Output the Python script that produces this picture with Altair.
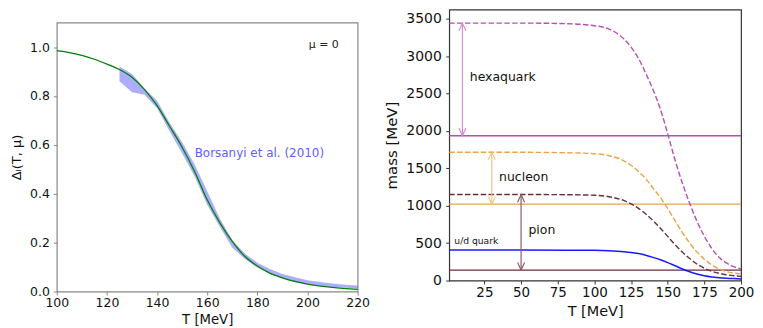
import altair as alt
import pandas as pd

# ---------------- Left panel data ----------------
left_T = [100, 105, 110, 115, 120, 125, 130, 135, 140, 145, 150, 155, 160, 165, 170, 175, 180, 185, 190, 195, 200, 210, 220]
left_delta = [0.985, 0.977, 0.966, 0.950, 0.930, 0.908, 0.876, 0.826, 0.760, 0.676, 0.590, 0.490, 0.375, 0.282, 0.205, 0.144, 0.104, 0.075, 0.056, 0.041, 0.030, 0.017, 0.009]

band_T = [125, 130, 135, 140, 145, 150, 155, 160, 165, 170, 175, 180, 185, 190, 195, 200, 205, 210, 215, 220]
band_hi = [0.92, 0.89, 0.83, 0.78, 0.69, 0.61, 0.52, 0.41, 0.30, 0.21, 0.155, 0.118, 0.092, 0.072, 0.058, 0.046, 0.039, 0.033, 0.028, 0.025]
band_lo = [0.86, 0.815, 0.805, 0.75, 0.655, 0.565, 0.47, 0.355, 0.265, 0.18, 0.133, 0.098, 0.073, 0.054, 0.038, 0.028, 0.022, 0.018, 0.015, 0.012]

left_text = ["Borsanyi et al. (2010)", "\u03bc = 0"]
left_text_T = [155, 200.5]
left_text_v = [0.567, 1.01]
left_text_color = ["#6060ff", "#222222"]
left_text_size = [12, 11]

# ---------------- Right panel data ----------------
right_T = [1, 50, 80, 100, 110, 120, 125, 130, 135, 140, 145, 150, 155, 160, 165, 170, 175, 180, 185, 190, 195, 200]
hexa_m = [3440, 3440, 3433, 3405, 3360, 3230, 3120, 2970, 2770, 2550, 2290, 1960, 1610, 1300, 1030, 790, 590, 430, 310, 235, 185, 155]
nucleon_m = [1715, 1714, 1708, 1695, 1668, 1600, 1540, 1460, 1360, 1235, 1110, 960, 800, 640, 500, 380, 285, 210, 155, 120, 100, 88]
pion_m = [1150, 1150, 1147, 1140, 1120, 1070, 1025, 965, 890, 800, 700, 590, 480, 380, 295, 220, 165, 125, 97, 78, 64, 55]
quark_m = [407, 407, 406, 404, 398, 386, 376, 360, 338, 310, 278, 240, 198, 155, 118, 88, 64, 48, 38, 31, 26, 22]

hline_mass = [1935, 1020, 140]
arrow_T = [10, 30, 50]
arrow_top = [3440, 1715, 1150]
arrow_bottom = [1935, 1020, 140]

right_text = ["hexaquark", "nucleon", "pion", "u/d quark"]
right_text_T = [15, 35, 55, 4.5]
right_text_m = [2716, 1386, 669, 532]
right_text_size = [12.5, 12.5, 12.5, 9.2]

HEX_C, HEX_A = "#b54fb5", "#d48cd4"
NUC_C, NUC_A = "#e8a545", "#f0c590"
PION_C, PION_A = "#6a2f3c", "#8e5e6a"
QUARK_C = "#1a1aff"

FONT = "DejaVu Sans"


def common_axis(**kw):
    base = dict(domain=False, tickSize=3.5, grid=False, labelColor="#111", titleColor="#111",
                titleFontWeight="normal", labelFont=FONT, titleFont=FONT,
                labelFlush=False, labelOverlap=False)
    base.update(kw)
    return alt.Axis(**base)


# ================= Left chart =================
xL = lambda f: alt.X(f"{f}:Q", scale=alt.Scale(domain=[100, 220], nice=False, zero=False),
                     axis=common_axis(values=list(range(100, 221, 20)), title="T [MeV]",
                                      labelFontSize=12.5, titleFontSize=13.3, tickColor="#888888",
                                      labelPadding=2, titlePadding=3))
yL = lambda f: alt.Y(f"{f}:Q", scale=alt.Scale(domain=[0, 1.1], nice=False, zero=False),
                     axis=common_axis(values=[0, 0.2, 0.4, 0.6, 0.8, 1.0], format=".1f",
                                      title="\u0394\u2097(T, \u03bc)", labelFontSize=12.5,
                                      titleFontSize=13, tickColor="#888888", labelPadding=4,
                                      titleX=-40, titleY=135, titleAngle=-90, titleAlign="center",
                                      titleBaseline="middle"))

band_df = pd.DataFrame({"T": band_T, "hi": band_hi, "lo": band_lo})
green_df = pd.DataFrame({"T": left_T, "v": left_delta})
ltext_df = pd.DataFrame({"T": left_text_T, "v": left_text_v, "t": left_text,
                         "c": left_text_color, "s": left_text_size})

band = alt.Chart(band_df).mark_area(color="#0000ff", opacity=0.32).encode(
    x=xL("T"), y=yL("lo"), y2="hi")
green = alt.Chart(green_df).mark_line(color="#008000", strokeWidth=1.3, interpolate="monotone").encode(
    x=xL("T"), y=yL("v"))
ltext = alt.Chart(ltext_df).mark_text(align="left", baseline="middle", font=FONT).encode(
    x=xL("T"), y=yL("v"), text="t:N", color=alt.Color("c:N", scale=None),
    size=alt.Size("s:Q", scale=None))

left = alt.layer(band, green, ltext).properties(
    width=302, height=270,
    view=alt.ViewBackground(stroke="#888888", strokeWidth=1.2))

# invisible spacer (empty text) that pushes the left panel down
spacer = alt.Chart(pd.DataFrame({"a": [0], "t": [""]})).mark_text(opacity=0).encode(
    x=alt.X("a:Q", axis=None), y=alt.Y("a:Q", axis=None), text="t:N"
).properties(width=302, height=12, view=alt.ViewBackground(strokeOpacity=0))

# ================= Right chart =================
xR = lambda f: alt.X(f"{f}:Q", scale=alt.Scale(domain=[1, 200], nice=False, zero=False),
                     axis=common_axis(values=list(range(25, 201, 25)), title="T [MeV]",
                                      labelFontSize=13.5, titleFontSize=14.5, tickColor="#333333",
                                      labelPadding=2, titlePadding=5))
yR = lambda f: alt.Y(f"{f}:Q", scale=alt.Scale(domain=[0, 3620], nice=False, zero=False),
                     axis=common_axis(values=list(range(0, 3501, 500)), format="d",
                                      title="mass [MeV]", labelFontSize=14, titleFontSize=15,
                                      tickColor="#333333", labelPadding=4.5,
                                      titleX=-58, titleY=136, titleAngle=-90, titleAlign="center",
                                      titleBaseline="middle"))

rows = []
for name, arr, col in [("hexa", hexa_m, HEX_C), ("nucleon", nucleon_m, NUC_C), ("pion", pion_m, PION_C)]:
    for t, m in zip(right_T, arr):
        rows.append({"T": t, "m": m, "name": name, "c": col})
dashed_df = pd.DataFrame(rows)
quark_df = pd.DataFrame({"T": right_T, "m": quark_m})
hline_df = pd.DataFrame({"m": hline_mass, "c": [HEX_C, NUC_C, PION_C]})
arrow_df = pd.DataFrame({"T": arrow_T, "top": arrow_top, "bottom": arrow_bottom,
                         "c": [HEX_A, NUC_A, PION_A]})
rtext_df = pd.DataFrame({"T": right_text_T, "m": right_text_m, "t": right_text,
                         "s": right_text_size})

hlines = alt.Chart(hline_df).mark_rule(strokeWidth=1.3).encode(
    y=yR("m"), color=alt.Color("c:N", scale=None))
dashed = alt.Chart(dashed_df).mark_line(strokeWidth=1.4, strokeDash=[5.5, 2.4], interpolate="monotone").encode(
    x=xR("T"), y=yR("m"), detail="name:N", color=alt.Color("c:N", scale=None))
quark = alt.Chart(quark_df).mark_line(strokeWidth=1.5, color=QUARK_C, interpolate="monotone").encode(
    x=xR("T"), y=yR("m"))
shafts = alt.Chart(arrow_df).mark_rule(strokeWidth=1.2).encode(
    x=xR("T"), y=yR("top"), y2="bottom", color=alt.Color("c:N", scale=None))
heads_top = alt.Chart(arrow_df).mark_point(shape="M-1,2.2L0,0L1,2.2", size=49, filled=False,
                                           strokeWidth=1.2, opacity=1).encode(
    x=xR("T"), y=yR("top"), color=alt.Color("c:N", scale=None))
heads_bot = alt.Chart(arrow_df).mark_point(shape="M-1,-2.2L0,0L1,-2.2", size=49, filled=False,
                                           strokeWidth=1.2, opacity=1).encode(
    x=xR("T"), y=yR("bottom"), color=alt.Color("c:N", scale=None))
rtext = alt.Chart(rtext_df).mark_text(align="left", baseline="middle", font=FONT, color="#111").encode(
    x=xR("T"), y=yR("m"), text="t:N", size=alt.Size("s:Q", scale=None))

right = alt.layer(hlines, dashed, quark, shafts, heads_top, heads_bot, rtext).properties(
    width=293, height=272,
    view=alt.ViewBackground(stroke="#333333", strokeWidth=1.2))

left_col = alt.vconcat(spacer, left, spacing=0)

chart = alt.hconcat(left_col, right, spacing=13).properties(
    padding={"left": 2, "top": 0, "right": 0, "bottom": 0}
).configure_view(strokeWidth=1.2)

chart.save("out.html", embed_options={"renderer": "svg", "actions": False})
